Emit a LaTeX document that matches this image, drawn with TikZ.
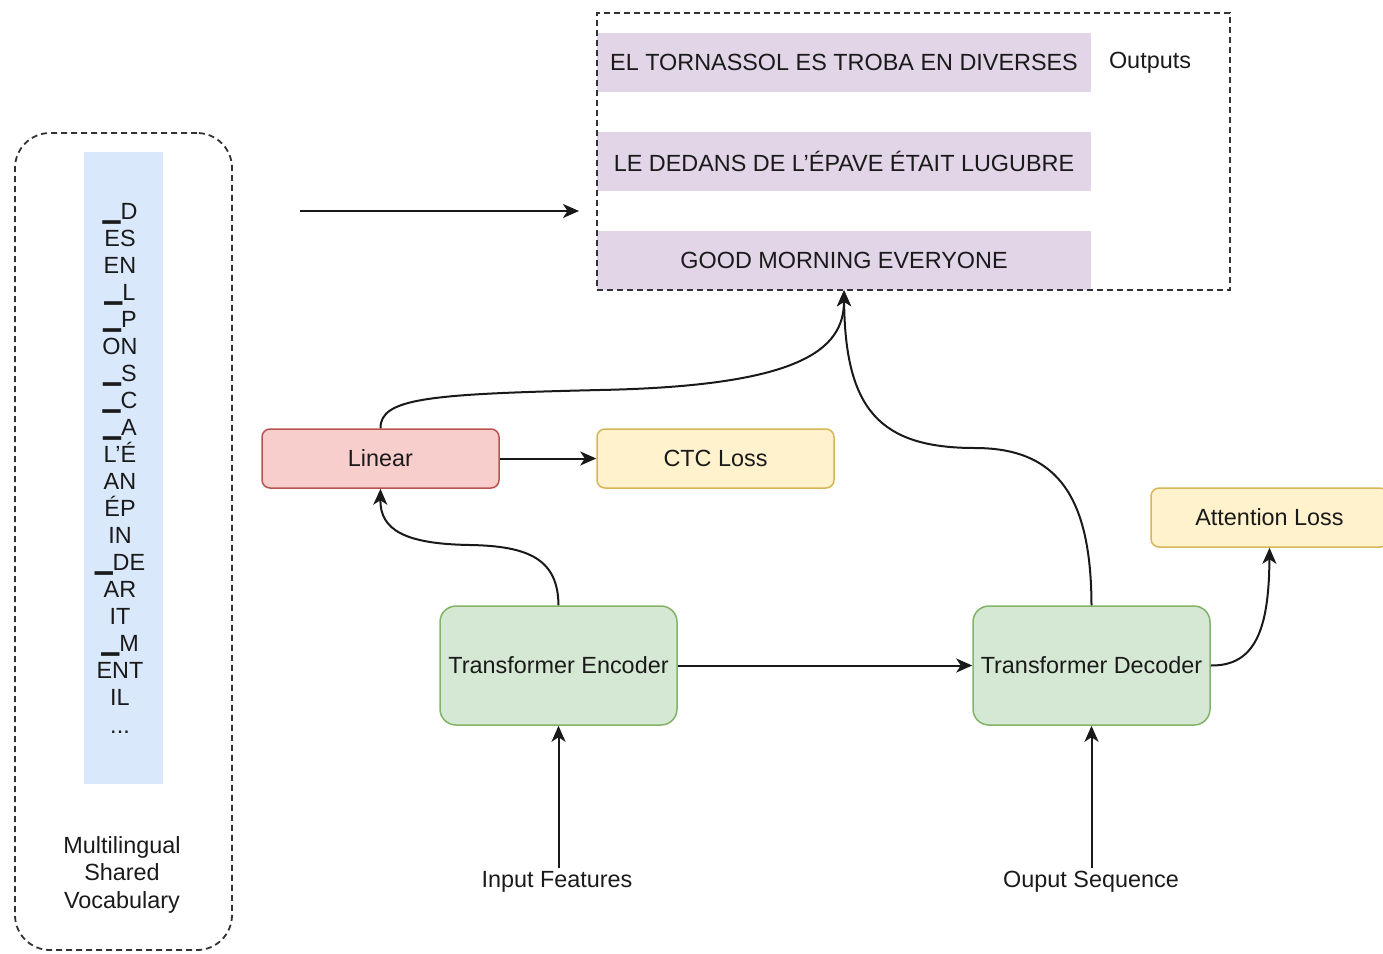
\documentclass[tikz,border=0pt]{standalone}
\usepackage{fontspec}
\setmainfont{Liberation Sans}
\newfontfamily\dejavu{DejaVu Sans}
\usetikzlibrary{arrows.meta}
\definecolor{bluef}{HTML}{DAE8FC}
\definecolor{purplef}{HTML}{E1D5E7}
\definecolor{redf}{HTML}{F8CECC}
\definecolor{redd}{HTML}{B85450}
\definecolor{yelf}{HTML}{FFF2CC}
\definecolor{yeld}{HTML}{D6B656}
\definecolor{grnf}{HTML}{D5E8D4}
\definecolor{grnd}{HTML}{82B366}
\definecolor{txt}{HTML}{1A1A1A}
\newcommand{\tokbar}{{\dejavu\raisebox{1pt}{▁}}}
\begin{document}
\begin{tikzpicture}[x=1pt,y=-1pt,
  every node/.style={text=txt, font=\fontsize{23.4}{27.05}\selectfont},
  box/.style={draw, rounded corners=8pt, line width=1.5pt, minimum width=237pt, minimum height=59pt, inner sep=0pt},
  bigbox/.style={box, minimum height=119pt, rounded corners=16pt},
  outbox/.style={fill=purplef, minimum width=494pt, minimum height=59pt, inner sep=0pt},
  dashframe/.style={draw=black!80, line width=1.8pt, dash pattern=on 6pt off 4pt},
  arr/.style={line width=2pt, draw=black!90, -{Stealth[length=16pt,width=14pt,inset=4.5pt]}}
]
\useasboundingbox (0,0) rectangle (1383,953);

% left vocabulary panel
\node[dashframe, rounded corners=35pt, minimum width=217pt, minimum height=817pt, inner sep=0pt] (vocabframe) at (123.5,541.5) {};
\node[fill=bluef, minimum width=79pt, minimum height=632pt, inner sep=0pt] (vocabbg) at (123.5,468) {};
\node[align=center, anchor=base, inner sep=0pt] (vocab) at (120,733)
  {\tokbar D\\ES\\EN\\\tokbar L\\\tokbar P\\ON\\\tokbar S\\\tokbar C\\\tokbar A\\L’É\\AN\\ÉP\\IN\\\tokbar DE\\AR\\IT\\\tokbar M\\ENT\\IL\\...};
\node[align=center, anchor=base, inner sep=0pt] (vocablabel) at (122,908) {Multilingual\\Shared\\Vocabulary};

% outputs
\node[outbox] (out1) at (844,62.5) {EL TORNASSOL ES TROBA EN DIVERSES};
\node[outbox] (out2) at (844,161.5) {LE DEDANS DE L’ÉPAVE ÉTAIT LUGUBRE};
\node[outbox] (out3) at (844,260.5) {GOOD MORNING EVERYONE};
\node (outlabel) at (1150,63) {Outputs};
\node[dashframe, minimum width=633pt, minimum height=277pt, inner sep=0pt] (outframe) at (913.5,151.5) {};

\coordinate (afrom) at (300,211);
\coordinate (ato) at (579,211);
\draw[arr] (afrom) -- (ato);

% boxes
\node[box, fill=redf, draw=redd] (linear) at (380.5,458.5) {Linear};
\node[box, fill=yelf, draw=yeld] (ctc) at (715.5,458.5) {CTC Loss};
\node[box, fill=yelf, draw=yeld] (att) at (1269.5,517.5) {Attention Loss};
\node[bigbox, fill=grnf, draw=grnd] (enc) at (558.5,665.5) {Transformer Encoder};
\node[bigbox, fill=grnf, draw=grnd] (dec) at (1091.5,665.5) {Transformer Decoder};
\node (inp) at (557,882) {Input Features};
\node (outseq) at (1091,882) {Ouput Sequence};

% connectors
\draw[arr] (linear.east) -- (ctc.west);
\draw[arr] (enc.east) -- (dec.west);
\draw[arr] (inp.north -| enc.south) -- (enc.south);
\draw[arr] (outseq.north -| dec.south) -- (dec.south);
\draw[arr] (enc.north) .. controls (558,560) and (530,546) .. (470,545)
  .. controls (405,544) and (380,530) .. (linear.south);
\draw[arr] (linear.north) .. controls (380,398) and (430,394) .. (600,390)
  .. controls (800,386) and (844,350) .. (out3.south);
\draw[arr] (dec.north) .. controls (1091,500) and (1060,448) .. (975,448)
  .. controls (880,448) and (845,410) .. (out3.south);
\draw[arr] (dec.east) .. controls (1255,666) and (1269,630) .. (att.south);
\end{tikzpicture}
\end{document}
